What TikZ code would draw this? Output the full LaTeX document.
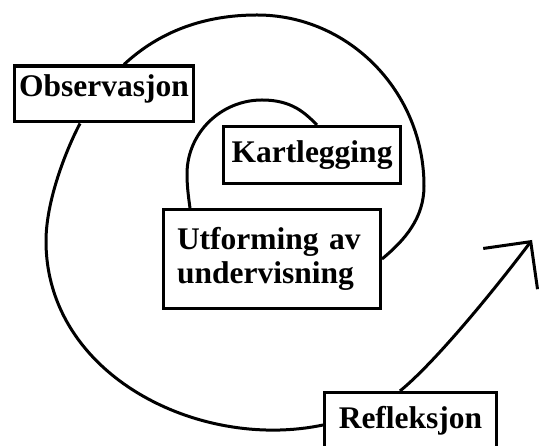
\documentclass[tikz,border=0pt]{standalone}
\usepackage{fontspec}
\setmainfont{Liberation Serif}
\usetikzlibrary{arrows.meta}

\begin{document}
\begin{tikzpicture}[x=1pt, y=1pt, line width=3pt,
    stage/.style={draw, line width=3.4pt, inner sep=0pt, font=\bfseries\fontsize{31.5}{34}\selectfont}]

\useasboundingbox (0,0) rectangle (539,446);
\clip (0,0) rectangle (539,446);

\node[stage, minimum width=178.6pt, minimum height=55.6pt, text depth=17.5pt] (obs) at (104,352) {Observasjon};
\node[stage, minimum width=176.6pt, minimum height=56.6pt] (kart) at (312,291) {Kartlegging};
\node[stage, minimum width=216.6pt, minimum height=98.6pt, text width=190pt, align=left] (utf) at (272,187) {Utforming av\\undervisning};
\node[stage, minimum width=171.6pt, minimum height=55.6pt] (refl) at (410.5,25.5) {Refleksjon};
\coordinate (tip) at (532,206);

\draw (refl.west |- 0,21) .. controls (200,-5) and (46,70) .. (46,205)
    .. controls (46,245) and (66,296) .. (obs.south -| 80,0);
\draw (obs.north -| 124,0) .. controls (160,415) and (205,431) .. (257,431)
    .. controls (349,431) and (424,354) .. (424,260)
    .. controls (424,228) and (405,206) .. (utf.east);
\draw (utf.north -| 190,0) .. controls (188,252) and (187,262) .. (187,272)
    .. controls (187,313) and (221,346) .. (262,346)
    .. controls (292,346) and (305,333) .. (kart.north -| 317,0);
\draw[-{Straight Barb[angle=90:48pt]}] (refl.north -| 400,0) .. controls (438,86) and (502,166) .. (tip);

\end{tikzpicture}
\end{document}
